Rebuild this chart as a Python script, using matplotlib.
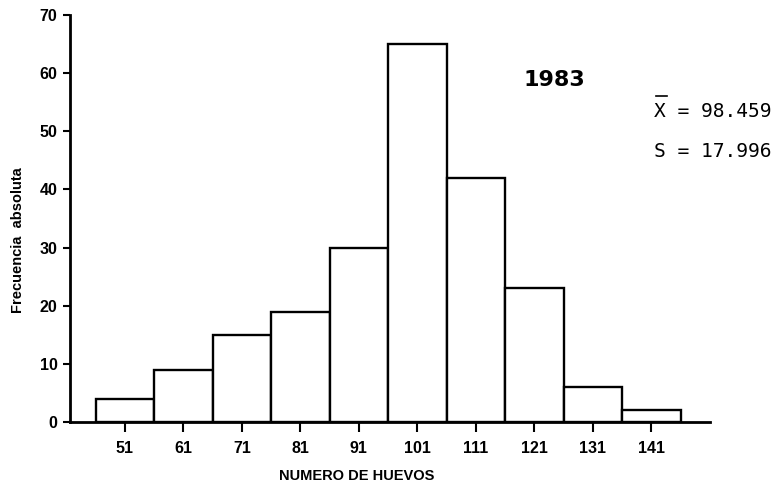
import matplotlib.pyplot as plt
from matplotlib.lines import Line2D

# egg counts per class (class centres) for 1983
centres = [51, 61, 71, 81, 91, 101, 111, 121, 131, 141]
counts = [4, 9, 15, 19, 30, 65, 42, 23, 6, 2]
yticks = [0, 10, 20, 30, 40, 50, 60, 70]
year = "1983"
mean_txt = "98.459"
sd_txt = "17.996"

plt.rcParams['font.family'] = ['Liberation Sans', 'DejaVu Sans']

fig = plt.figure(figsize=(7.8, 4.87), dpi=100)
ax = fig.add_axes([0.0897, 0.1335, 0.8203, 0.8357])

ax.bar(centres, counts, width=10, color='white', edgecolor='black', linewidth=1.7)

ax.set_xlim(41.6, 151)
ax.set_ylim(0, 70)
ax.set_xticks(centres)
ax.set_yticks(yticks)
for s in ['top', 'right']:
    ax.spines[s].set_visible(False)
for s in ['left', 'bottom']:
    ax.spines[s].set_linewidth(2)
ax.tick_params(axis='x', direction='out', length=7, width=1.5, pad=7, labelsize=11.5)
ax.tick_params(axis='y', direction='out', length=5, width=1.5, pad=4, labelsize=11.5)
for lab in ax.get_xticklabels() + ax.get_yticklabels():
    lab.set_fontweight('bold')

ax.set_xlabel("NUMERO DE HUEVOS", fontsize=10.5, fontweight='bold')
ax.xaxis.set_label_coords(0.448, -0.115)
ax.set_ylabel("Frecuencia  absoluta", fontsize=10.5, fontweight='bold')
ax.yaxis.set_label_coords(-0.071, 0.447)

fig.text(0.711, 0.836, year, fontsize=16, fontweight='bold', ha='center', va='center',
         family=['Liberation Sans Narrow', 'DejaVu Sans'])

fig.text(0.839, 0.772, "X = " + mean_txt, fontsize=14, family='DejaVu Sans Mono',
         ha='left', va='center')
fig.text(0.839, 0.688, "S = " + sd_txt, fontsize=14, family='DejaVu Sans Mono',
         ha='left', va='center')
# bar over the X
fig.add_artist(Line2D([0.8405, 0.8545], [0.803, 0.803], transform=fig.transFigure,
                      color='black', linewidth=1.2))

fig.savefig("out.png", dpi=100)
